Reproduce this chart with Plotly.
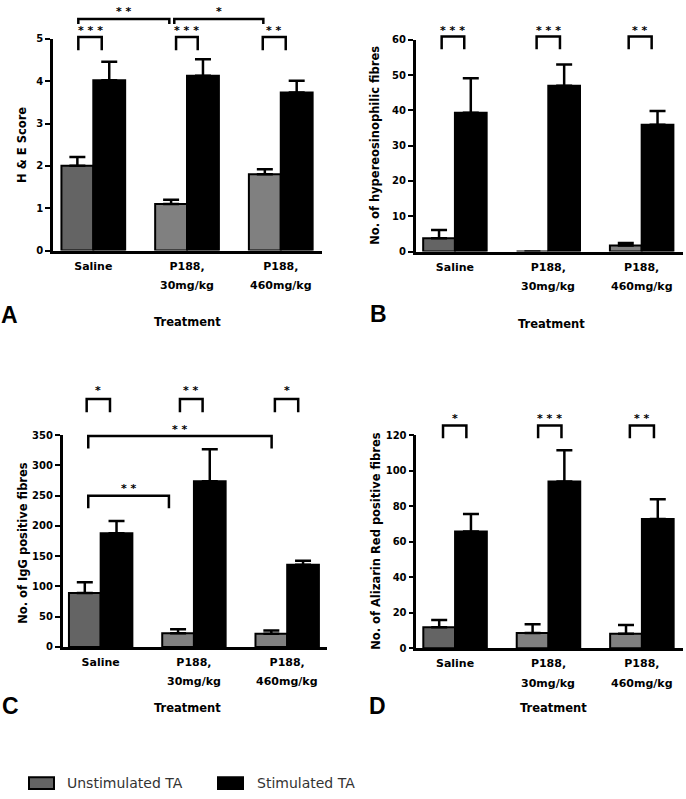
import plotly.graph_objects as go

# ---------------- data ----------------
categories = ["Saline", "P188, 30mg/kg", "P188, 460mg/kg"]
tick_line1 = ["Saline", "P188,", "P188,"]
tick_line2 = ["", "30mg/kg", "460mg/kg"]
series_names = ["Unstimulated TA", "Stimulated TA"]
series_swatch = ["#646464", "#000000"]
x_pos = [0, 1, 2]

# A: H & E score
he_unstim = [2.00, 1.10, 1.80]
he_unstim_err = [0.21, 0.10, 0.12]
he_stim = [4.02, 4.13, 3.73]
he_stim_err = [0.44, 0.39, 0.28]

# B: hypereosinophilic fibres
hyper_unstim = [3.8, 0.0, 1.7]
hyper_unstim_err = [2.3, 0.0, 0.7]
hyper_stim = [39.3, 47.0, 35.9]
hyper_stim_err = [9.8, 6.0, 3.9]

# C: IgG positive fibres
igg_unstim = [89, 22.8, 21.8]
igg_unstim_err = [18, 6.5, 5.4]
igg_stim = [188, 274, 135.8]
igg_stim_err = [20, 52.7, 6.5]

# D: Alizarin Red positive fibres
ar_unstim = [11.8, 8.5, 8.1]
ar_unstim_err = [4.1, 5.0, 5.0]
ar_stim = [65.8, 93.9, 72.8]
ar_stim_err = [9.8, 17.6, 11.1]

y_titles = ["H & E Score", "No. of hypereosinophilic fibres",
            "No. of IgG positive fibres", "No. of Alizarin Red positive fibres"]
panel_letters = ["A", "B", "C", "D"]

# significance brackets (data units): (x_left, x_right, y_top, y_leg, stars, y_star)
brackets_A = [(-0.16, 0.09, 5.04, 4.73, "* * *", 5.19),
              (0.883, 1.114, 5.04, 4.73, "* * *", 5.19),
              (1.808, 2.053, 5.04, 4.73, "* *", 5.19),
              (-0.16, 0.811, 5.47, 5.35, "* *", 5.64),
              (0.864, 1.814, 5.47, 5.35, "*", 5.64)]
brackets_B = [(-0.142, 0.10, 60.9, 57.3, "* * *", 62.6),
              (0.875, 1.125, 60.9, 57.3, "* * *", 62.6),
              (1.861, 2.107, 60.9, 57.3, "* *", 62.6)]
brackets_C = [(-0.15, 0.10, 409.7, 388, "*", 423),
              (0.85, 1.093, 409.7, 388, "* *", 423),
              (1.868, 2.118, 409.7, 388, "*", 423),
              (-0.133, 1.833, 348.4, 327.8, "* *", 359),
              (-0.133, 0.732, 249.7, 229, "* *", 262.5)]
brackets_D = [(-0.129, 0.121, 125.5, 118.2, "*", 129.2),
              (0.889, 1.139, 125.5, 118.2, "* * *", 129.2),
              (1.871, 2.129, 125.5, 118.2, "* *", 129.2)]

# ---------------- layout geometry (pixels) ----------------
W, H = 686, 799
panels = [
    dict(unstim=he_unstim, ue=he_unstim_err, stim=he_stim, se=he_stim_err,
         br=brackets_A, xdom=(53, 322), ydom=(248.3, 33.3), xr=(-0.43, 2.44),
         yr=(0, 5), dt=1, ytx=22, yty=141, let=(9.5, 313.5), trt=(187.5, 321)),
    dict(unstim=hyper_unstim, ue=hyper_unstim_err, stim=hyper_stim, se=hyper_stim_err,
         br=brackets_B, xdom=(415.7, 683.3), ydom=(249.3, 34.3), xr=(-0.42, 2.446),
         yr=(0, 60), dt=10, ytx=375, yty=142, let=(378.5, 313), trt=(551, 323)),
    dict(unstim=igg_unstim, ue=igg_unstim_err, stim=igg_stim, se=igg_stim_err,
         br=brackets_C, xdom=(62.7, 327.3), ydom=(650.7, 435.7), xr=(-0.407, 2.43),
         yr=(0, 350), dt=50, ytx=23, yty=545, let=(10, 711), trt=(188, 713)),
    dict(unstim=ar_unstim, ue=ar_unstim_err, stim=ar_stim, se=ar_stim_err,
         br=brackets_D, xdom=(416.3, 683), ydom=(652, 435.7), xr=(-0.415, 2.44),
         yr=(0, 120), dt=20, ytx=376, yty=543, let=(378, 711), trt=(553, 713)),
]
# legend key layout (pixels): swatch left/right, text left, centre line
legend_items = [dict(sw=(29, 54), tx=65), dict(sw=(218, 243), tx=255)]
legend_y, legend_h = 789, 12

def px_x(p):
    return p / W

def px_y(p):
    return 1 - p / H

FONT = "DejaVu Sans"
unstim_colors = ["#646464", "#808080", "#808080"]

fig = go.Figure()
layout = dict(width=W, height=H, margin=dict(l=0, r=0, t=0, b=0),
              paper_bgcolor="white", plot_bgcolor="white",
              barmode="group", bargap=0.32, bargroupgap=0,
              showlegend=False, annotations=[], shapes=[])

for i, p in enumerate(panels):
    n = "" if i == 0 else str(i + 1)
    xa, ya = "x" + n, "y" + n
    ymax = p["yr"][1]
    fig.add_trace(go.Bar(
        x=x_pos, y=p["unstim"], name=series_names[0], xaxis=xa, yaxis=ya,
        marker=dict(color=unstim_colors, line=dict(color="black", width=2)),
        error_y=dict(type="data", symmetric=False, array=p["ue"],
                     arrayminus=[0, 0, 0], color="black", thickness=2.5, width=8),
        hoverinfo="skip"))
    fig.add_trace(go.Bar(
        x=x_pos, y=p["stim"], name=series_names[1], xaxis=xa, yaxis=ya,
        marker=dict(color="black", line=dict(color="black", width=2)),
        error_y=dict(type="data", symmetric=False, array=p["se"],
                     arrayminus=[0, 0, 0], color="black", thickness=2.5, width=8),
        hoverinfo="skip"))

    # significance brackets: x in data units, y converted from data to y-domain fraction
    for (x0, x1, yt, yl, stars, ys) in p["br"]:
        f_t, f_l = yt / ymax, yl / ymax
        path = "M{a},{fl} L{a},{ft} L{b},{ft} L{b},{fl}".format(a=x0, b=x1, ft=f_t, fl=f_l)
        layout["shapes"].append(dict(
            type="path", path=path, xref=xa, yref=ya + " domain",
            line=dict(color="black", width=2.5), layer="above"))
        layout["annotations"].append(dict(
            x=(x0 + x1) / 2, xref=xa, y=ys / ymax, yref=ya + " domain",
            text=stars, showarrow=False, xanchor="center", yanchor="middle",
            font=dict(family=FONT, size=11, color="black", weight="bold")))

    layout["xaxis" + n] = dict(
        domain=[px_x(p["xdom"][0]), px_x(p["xdom"][1])], anchor=ya,
        range=list(p["xr"]), tickmode="array", tickvals=x_pos, ticktext=tick_line1,
        ticks="", showgrid=False, zeroline=False, showline=True,
        linecolor="black", linewidth=2.5, ticklabelstandoff=3,
        tickfont=dict(family=FONT, size=11, color="black", weight="bold"),
        fixedrange=True)
    layout["yaxis" + n] = dict(
        domain=[px_y(p["ydom"][0]), px_y(p["ydom"][1])], anchor=xa,
        range=list(p["yr"]), dtick=p["dt"], tick0=0, ticks="outside", ticklen=5,
        tickwidth=2, tickcolor="black", showgrid=False, zeroline=False,
        showline=True, linecolor="black", linewidth=2.5,
        tickfont=dict(family=FONT, size=10, color="black", weight="bold"),
        fixedrange=True)

    for k in (1, 2):
        layout["annotations"].append(dict(
            x=x_pos[k], xref=xa, y=0, yref=ya + " domain", yshift=-35,
            text=tick_line2[k], showarrow=False, xanchor="center", yanchor="middle",
            font=dict(family=FONT, size=11, color="black", weight="bold")))
    layout["annotations"].append(dict(
        x=px_x(p["ytx"]), y=px_y(p["yty"]), xref="paper", yref="paper",
        text=y_titles[i], textangle=-90, showarrow=False,
        xanchor="center", yanchor="middle",
        font=dict(family=FONT, size=11.5, color="black", weight="bold")))
    layout["annotations"].append(dict(
        x=px_x(p["let"][0]), y=px_y(p["let"][1]), xref="paper", yref="paper",
        text=panel_letters[i], showarrow=False, xanchor="center", yanchor="middle",
        font=dict(family="Liberation Sans", size=23, color="black", weight="bold")))
    layout["annotations"].append(dict(
        x=px_x(p["trt"][0]), y=px_y(p["trt"][1]), xref="paper", yref="paper",
        text="Treatment", showarrow=False, xanchor="center", yanchor="middle",
        font=dict(family=FONT, size=11.5, color="black", weight="bold")))

# legend key (drawn as shapes + text so it doesn't push the figure margins)
for name, col, it in zip(series_names, series_swatch, legend_items):
    layout["shapes"].append(dict(
        type="rect", xref="paper", yref="paper",
        x0=px_x(it["sw"][0]), x1=px_x(it["sw"][1]),
        y0=px_y(legend_y + legend_h / 2), y1=px_y(legend_y - legend_h / 2),
        fillcolor=col, line=dict(color="black", width=2)))
    layout["annotations"].append(dict(
        x=px_x(it["tx"]), y=px_y(legend_y), xref="paper", yref="paper",
        text=name, showarrow=False, xanchor="left", yanchor="middle",
        font=dict(family=FONT, size=14, color="#333333")))

fig.update_layout(**layout)
fig.write_html("out.html", config={"displayModeBar": False},
               post_script="document.body.style.margin='0';document.body.style.overflow='hidden';")
